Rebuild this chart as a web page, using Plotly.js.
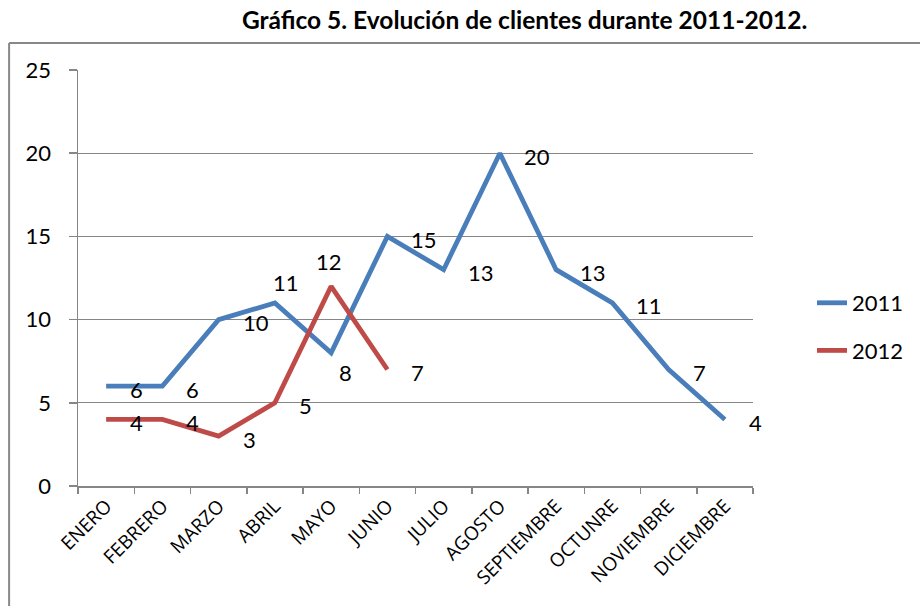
<!DOCTYPE html>
<html>
<head>
<meta charset="utf-8">
<script src="https://cdn.plot.ly/plotly-3.0.1.min.js"></script>
<style>
  html, body { margin: 0; padding: 0; background: #ffffff; }
  #chart { width: 920px; height: 606px; }
</style>
</head>
<body>
<div id="chart"></div>
<script>
// ---- Data ----
const months = ["ENERO", "FEBRERO", "MARZO", "ABRIL", "MAYO", "JUNIO", "JULIO",
                "AGOSTO", "SEPTIEMBRE", "OCTUNRE", "NOVIEMBRE", "DICIEMBRE"];
const months2012 = ["ENERO", "FEBRERO", "MARZO", "ABRIL", "MAYO", "JUNIO"];
const values2011 = [6, 6, 10, 11, 8, 15, 13, 20, 13, 11, 7, 4];
const values2012 = [4, 4, 3, 5, 12, 7];
const seriesNames = ["2011", "2012"];
const yTicks = [0, 5, 10, 15, 20, 25];

// ---- Styling ----
const blue = "#4A7EBB";
const red = "#BE4B48";
const gray = "#868686";
const fontFam = "Lato, 'Open Sans', sans-serif";

// Label placement overrides (series index -> point index -> shift)
const labelOverrides = {
  "0-3": {xanchor: "center", xshift: 11, yshift: 20},
  "0-4": {xanchor: "center", xshift: 14, yshift: -20},
  "1-4": {xanchor: "center", xshift: -2, yshift: 25}
};

const traces = [
  {x: months, y: values2011, name: seriesNames[0], type: "scatter", mode: "lines",
   line: {color: blue, width: 4.8}, legendgroup: "a"},
  {x: months2012, y: values2012, name: seriesNames[1], type: "scatter", mode: "lines",
   line: {color: red, width: 4.8}, legendgroup: "b"}
];

const annotations = [];
traces.forEach((t, si) => {
  t.x.forEach((m, i) => {
    const ov = labelOverrides[si + "-" + i];
    annotations.push({
      x: m, y: t.y[i], xref: "x", yref: "y",
      text: String(t.y[i]), showarrow: false,
      xanchor: ov ? ov.xanchor : "left", yanchor: "middle",
      xshift: ov ? ov.xshift : 22, yshift: ov ? ov.yshift : -3,
      font: {family: fontFam, size: 22, color: "#000000"}
    });
  });
});

const L = 78, R = 754, T = 70, B = 486;
const px = v => (v - L) / (R - L);
const py = v => (B - v) / (B - T);

annotations.push({
  text: "<b>Gráfico 5. Evolución de clientes durante 2011-2012.</b>",
  xref: "paper", yref: "paper", x: px(525), y: py(19),
  xanchor: "center", yanchor: "middle", showarrow: false,
  font: {family: fontFam, size: 24.5, color: "#000000"}
});

const layout = {
  width: 920, height: 606,
  margin: {l: L, r: 920 - R, t: T, b: 606 - B, pad: 0},
  paper_bgcolor: "#ffffff", plot_bgcolor: "#ffffff",
  showlegend: true,
  legend: {
    x: px(812), y: py(282), xanchor: "left", yanchor: "top",
    font: {family: fontFam, size: 22, color: "#000000"},
    tracegroupgap: 16, bgcolor: "rgba(0,0,0,0)"
  },
  xaxis: {
    type: "category", categoryorder: "array", categoryarray: months,
    range: [-0.5, 11.5], fixedrange: true,
    showgrid: false, zeroline: false,
    showline: true, linecolor: gray, linewidth: 1.5,
    ticks: "outside", tickson: "boundaries", ticklen: 6, tickcolor: gray, tickwidth: 1.5,
    tickangle: -45, tickfont: {family: "'Open Sans', sans-serif", size: 19, color: "#000000"}
  },
  yaxis: {
    range: [0, 25], tickvals: yTicks, fixedrange: true,
    showgrid: true, gridcolor: gray, gridwidth: 1.2,
    zeroline: false, showline: true, linecolor: gray, linewidth: 1.5,
    ticks: "outside", ticklen: 8, tickcolor: gray, tickwidth: 1.5,
    ticklabelstandoff: 13,
    tickfont: {family: fontFam, size: 22, color: "#000000"}
  },
  shapes: [
    {type: "line", xref: "paper", yref: "paper",
     x0: px(9), x1: px(9), y0: py(43), y1: py(620),
     line: {color: "#888888", width: 2}},
    {type: "line", xref: "paper", yref: "paper",
     x0: px(9), x1: px(930), y0: py(43), y1: py(43),
     line: {color: "#888888", width: 2}}
  ],
  annotations: annotations
};

Plotly.newPlot("chart", traces, layout, {displayModeBar: false, staticPlot: true});
</script>
</body>
</html>
